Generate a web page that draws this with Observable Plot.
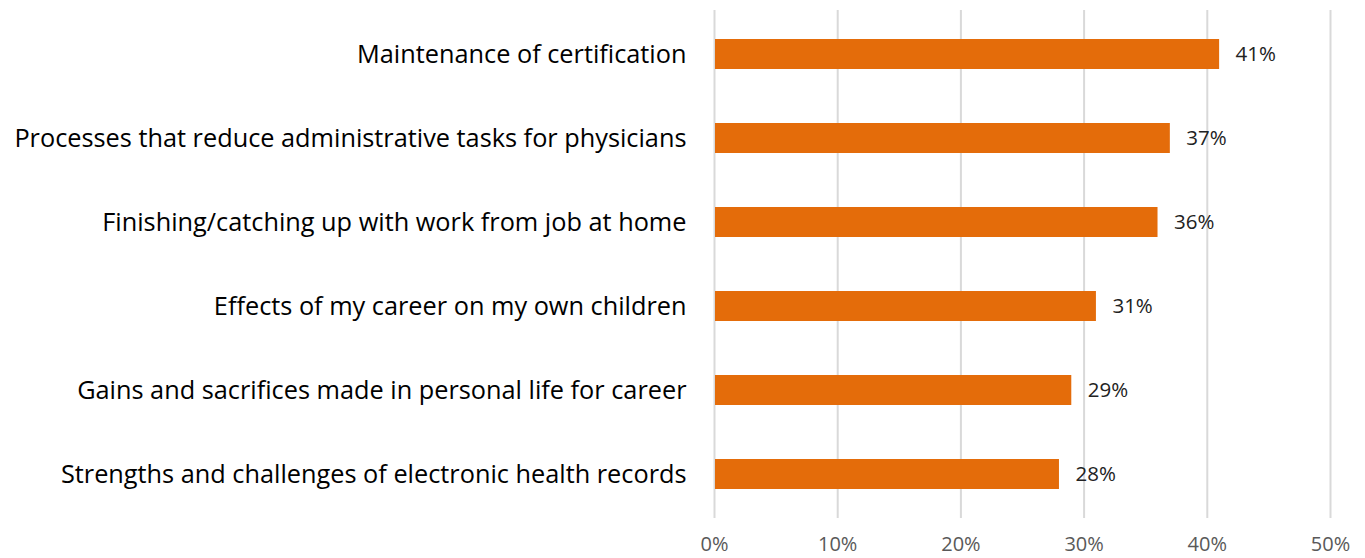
<!DOCTYPE html>
<html>
<head>
<meta charset="utf-8">
<script src="https://cdn.jsdelivr.net/npm/d3@7"></script>
<script src="https://cdn.jsdelivr.net/npm/@observablehq/plot@0.6"></script>
<style>
  html, body { margin: 0; padding: 0; background: #fff; }
  #chart svg { display: block; }
</style>
</head>
<body>
<div id="chart"></div>
<script>
const categories = [
  "Maintenance of certification",
  "Processes that reduce administrative tasks for physicians",
  "Finishing/catching up with work from job at home",
  "Effects of my career on my own children",
  "Gains and sacrifices made in personal life for career",
  "Strengths and challenges of electronic health records"
];
const values = [0.41, 0.37, 0.36, 0.31, 0.29, 0.28];
const valueLabels = ["41%", "37%", "36%", "31%", "29%", "28%"];
const xTicks = [0, 0.1, 0.2, 0.3, 0.4, 0.5];

const data = categories.map((c, i) => ({category: c, value: values[i], label: valueLabels[i]}));

const chart = Plot.plot({
  width: 1365,
  height: 558,
  marginLeft: 714,
  marginRight: 35,
  marginTop: 10,
  marginBottom: 40,
  style: {fontFamily: "'Open Sans', sans-serif", background: "#fff"},
  x: {domain: [0, 0.5], ticks: xTicks, tickFormat: d => Math.round(d * 100) + "%", label: null},
  y: {domain: categories, label: null, paddingInner: 0.646, paddingOuter: 0.323},
  marks: [
    Plot.ruleX(xTicks, {stroke: "#d9d9d9", strokeWidth: 2}),
    Plot.barX(data, {x: "value", y: "category", fill: "#e46c0a", insetLeft: 1}),
    Plot.text(data, {x: "value", y: "category", text: "label", textAnchor: "start", dx: 16, fontSize: 20.5, fill: "#222"}),
    Plot.axisX({ticks: xTicks, tickFormat: d => Math.round(d * 100) + "%", tickSize: 0, tickPadding: 18, fontSize: 20, color: "#595959", label: null}),
    Plot.axisY({tickSize: 0, tickPadding: 28, fontSize: 25.3, color: "#000", label: null})
  ]
});
document.getElementById("chart").appendChild(chart);
</script>
</body>
</html>
